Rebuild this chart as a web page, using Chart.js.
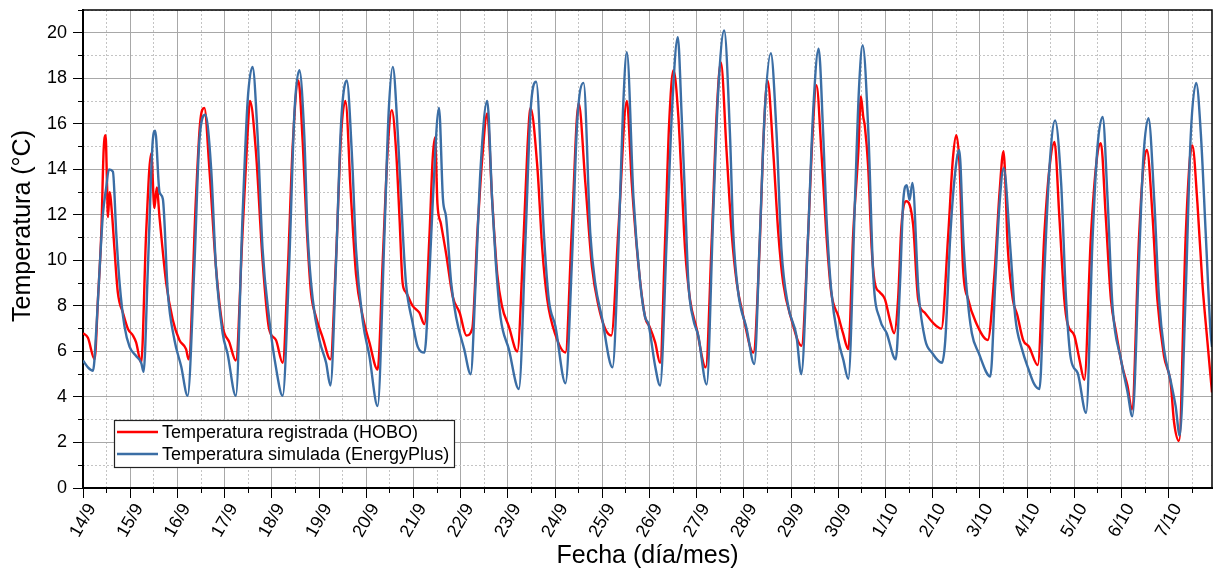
<!DOCTYPE html>
<html>
<head>
<meta charset="utf-8">
<script src="https://cdn.jsdelivr.net/npm/chart.js@4.4.1/dist/chart.umd.min.js"></script>
<style>
  html, body { margin: 0; padding: 0; background: #fff; }
  #wrap { width: 1213px; height: 571px; }
</style>
</head>
<body>
<div id="wrap"><canvas id="chart" width="1213" height="571"></canvas></div>
<script>
// Fechas (una etiqueta por día, cada 24 h)
const fechas = ['14/9', '15/9', '16/9', '17/9', '18/9', '19/9', '20/9', '21/9', '22/9', '23/9',
  '24/9', '25/9', '26/9', '27/9', '28/9', '29/9', '30/9', '1/10', '2/10', '3/10', '4/10',
  '5/10', '6/10', '7/10'];
const horaFinal = 574; // horas desde 14/9 00:00

// Temperatura registrada (HOBO): horas desde 14/9 00:00 y °C
const horasHOBO = [0, 2.5, 5.9, 7.6, 9.3, 10.5, 11.5, 12.2, 12.7, 13.5, 14.7, 16, 17.7, 20.3, 22.8,
  25.4, 27, 29.6, 32.1, 34.7, 36.3, 37.5, 38.9, 42.3, 45.6, 49, 52.4, 53.7, 57.4, 59.5, 61.7,
  64.2, 67.6, 71, 74.4, 77.7, 81.1, 83.7, 84.9, 87.9, 91.3, 94.6, 98.1, 101.5, 104.1, 106.6,
  109.5, 111.7, 113.7, 115.9, 118.5, 121.9, 125.8, 128.6, 131.2, 133.4, 136.3, 138.8, 142.3,
  145.6, 149.8, 152.4, 155, 157, 159.2, 160.9, 162.5, 164.2, 167.6, 171, 173.6, 176.1, 177.8,
  179, 180.2, 182, 184.6, 188, 191.5, 194.9, 197.9, 200.5, 203, 205.5, 208, 210.6, 213, 216.5,
  220.8, 224, 226, 227.5, 231, 233.5, 236, 240.3, 245.3, 248.6, 252, 255.4, 258.8, 262.1,
  265.5, 268.6, 272.3, 276.5, 279, 282.5, 285.8, 288, 290.9, 293.4, 296, 298, 300.2, 302.7,
  304.4, 306.1, 308.6, 312, 316.6, 319.7, 322.2, 324.3, 327.2, 329.8, 332.4, 335.7, 340.8,
  344.2, 345.8, 348, 350.9, 353.5, 356, 360.2, 365.3, 368.6, 370.6, 372.9, 375.4, 377.9,
  380.4, 384, 386.4, 389.1, 391.6, 394.2, 395.5, 396.7, 397.5, 399.2, 401, 402.6, 405.1,
  407.7, 410.2, 412.4, 414.4, 416.1, 418.6, 422, 424.6, 428, 432.2, 436.4, 439.8, 442.3, 444,
  445.7, 447.4, 450, 454.1, 460, 463.4, 466, 468, 470.2, 472.7, 475, 478, 481, 485.4, 488.8,
  491.3, 493.9, 496.4, 498.9, 500.6, 504, 506.6, 509.1, 512.4, 515.5, 517.5, 520, 522.6,
  525.1, 528.5, 531, 533.3, 536.9, 539, 540.9, 543.8, 546.2, 549.6, 553, 554.7, 557.2, 560.6,
  562.8, 564, 566.6, 569.1, 571.6, 574];
const tempHOBO = [6.8, 6.6, 5.65, 8.3, 11.2, 14.85, 15.5, 13.4, 11.9, 13.0, 12.1, 10.5, 8.6, 7.7, 7.0,
  6.7, 6.4, 5.5, 11.2, 14.7, 12.3, 13.2, 11.9, 9.0, 7.4, 6.5, 6.1, 5.65, 12.7, 16.0, 16.7,
  14.1, 9.7, 7.1, 6.4, 5.6, 11.2, 15.6, 17.0, 14.8, 10.0, 7.0, 6.5, 5.5, 9.5, 15,
  17.9, 15.2, 11.5, 8.6, 7.5, 6.6, 5.65, 10, 15.5, 17.0, 12.7, 9.4, 7.5,
  6.4, 5.2, 10, 15, 16.6, 14.8, 11.9, 9.0, 8.6, 8.0, 7.7, 7.2, 11, 14.5,
  15.4, 12.5, 11.6, 10.3, 8.4, 7.7, 6.7, 7.0, 11.2, 14.5, 16.45, 12.7, 9.4, 8.0, 7.1,
  6.0, 11, 15, 16.7, 14.1, 10.5, 8.3, 6.7, 5.95, 11.5, 16.9, 13.4, 9.7, 8.0,
  7.0, 6.7, 11.5, 17.0, 13.4, 9.7, 7.5, 7.1, 6.4, 5.5, 11, 16, 18.35, 16.3,
  13.4, 10.5, 8.3, 7.0, 5.3, 11, 16.5, 18.7, 14.8, 11.2, 9.0, 7.55, 5.95,
  11, 15, 17.9, 14.8, 11.2, 9.0, 7.4, 6.25, 11, 15, 17.7, 14.8, 11.2,
  8.6, 7.55, 6.8, 6.1, 11.2, 14.8, 17.2, 16.3, 15.9, 14.1, 10.5, 9.0, 8.6,
  8.3, 7.4, 6.8, 8.3, 11.5, 12.6, 11.6, 8.3, 7.7, 7.25, 7.0, 11, 14.5, 15.5,
  14.1, 9.7, 8.3, 7.25, 6.5, 9.4, 13, 14.8, 10.5, 8.3, 7.6, 6.5, 6.2, 5.4, 11.2,
  14, 15.2, 11.9, 8.3, 7.2, 6.7, 5.65, 4.75, 11, 14.5, 15.15, 11.9, 8.3,
  6.9, 5.3, 4.5, 3.45, 11, 14, 14.85, 11.9, 8.3, 5.8, 4.6, 2.9, 2.07, 11,
  14.5, 15.05, 12.5, 9.0, 6.5, 4.2];

// Temperatura simulada (EnergyPlus): horas desde 14/9 00:00 y °C
const horasEP = [0, 2.5, 5.1, 6.8, 8.5, 10.1, 11.8, 13.2, 15.2, 16.9, 18.6, 21.1, 23.7, 27, 29.6,
  30.8, 33, 35.5, 36.7, 38.9, 40.6, 43.1, 46.5, 49.9, 53.2, 56.6, 59.2, 62.2, 65.1, 67.6, 71,
  73.5, 77.7, 81.1, 83.7, 86.2, 88.7, 91.3, 94.7, 98.1, 101.5, 104.9, 107.5, 110, 112.5,
  114.2, 116.8, 120.2, 123.6, 125.8, 128.7, 131.2, 134.1, 136.8, 138.8, 142.3, 145.6, 149.8,
  153.2, 155.4, 157.5, 160.1, 162.6, 164.2, 167.6, 170.2, 173.6, 175.9, 177.9, 181, 183,
  184.6, 187.2, 189.7, 193.8, 197.1, 199.6, 202.1, 205.5, 208.1, 209.8, 212.3, 216.5, 221.6,
  225, 227.5, 230.4, 234.3, 236.8, 240.2, 245.3, 248.6, 251.2, 254.5, 257.9, 260.4, 263.8,
  269.2, 272.4, 274.5, 276.5, 279.9, 283.3, 285.8, 287.5, 290.9, 293.4, 296.8, 299.7, 302.4,
  304.4, 306.1, 307.8, 310.3, 312.8, 317.1, 320.4, 323, 326, 328.9, 330.6, 333.1, 337.4,
  341.3, 344.1, 346.6, 349.7, 352.6, 355.1, 358.5, 362.7, 365.2, 368.6, 371.2, 374, 376.3,
  378, 380.4, 384, 386.5, 389.1, 392.5, 394.5, 396.4, 399.3, 401.8, 405.2, 408.6, 413.2,
  415.4, 417.1, 418.8, 420.2, 421.7, 424.8, 428.2, 431.6, 436.7, 438.4, 440.9, 443, 445.5,
  447.7, 449.4, 451.9, 455.3, 461.3, 463.8, 466, 468.1, 471.5, 474, 477.4, 480.8, 483.7,
  486.3, 488.8, 491.3, 494.2, 497.3, 499.8, 502.3, 505.7, 510, 513.3, 515.8, 518.4, 520.9,
  523.4, 527.7, 531.1, 533.5, 536.9, 539.1, 541.7, 544.6, 547.1, 549.6, 553, 555.5, 557.6,
  560.6, 563.2, 566, 568.3, 570.8, 573.3, 574];
const tempEP = [5.6, 5.3, 5.15, 7, 9.7, 12, 13.2, 14.0, 13.9, 11.2, 9.0, 7.1, 6.2, 5.8, 5.5,
  5.1, 9.7, 15.3, 15.7, 13.0, 12.7, 8.6, 6.5, 5.35, 4.05, 9.7, 15.3, 16.4, 14.1, 9.7, 6.8,
  5.9, 4.05, 11.9, 17.0, 18.5, 15.6, 10.5, 7.4, 5.3, 4.05, 10, 16.5, 18.35, 15.5,
  11.2, 8.3, 6.5, 5.5, 4.5, 10, 16, 17.9, 14.5, 10.5, 7.3, 5.8, 3.6,
  11, 16.5, 18.5, 15.5, 11.2, 9.0, 7.25, 6.2, 5.95, 9, 12.7, 16.7, 12.7,
  11.9, 9.0, 7.5, 6.1, 5.0, 9, 14, 17.0, 12.5, 10, 7.5, 6.1, 4.35,
  11, 16.5, 17.85, 11.2, 8.3, 7.1, 4.6, 10, 16, 17.8, 11.2, 9.0, 7.5,
  5.3, 11, 16.5, 19.15, 12.7, 9.0, 7.5, 7.2, 5.35, 4.5, 11, 17, 19.8,
  16.3, 12.7, 9.0, 7.4, 6.7, 4.55, 12, 17.5, 20.1, 15.6, 11.2, 8.6, 7.0,
  5.45, 11, 16.5, 19.1, 15.6, 10.5, 8.0, 6.7, 5.0, 11, 16.5, 19.3, 15.6,
  11.9, 8.7, 6.5, 5.65, 4.8, 12.7, 17.5, 19.45, 15.6, 9.3, 7.4, 6.8, 5.65,
  9, 12.7, 13.3, 12.65, 13.4, 8.6, 6.5, 5.95, 5.5, 6.5, 11, 13.5, 14.85,
  10.7, 8.6, 6.8, 5.95, 4.9, 9, 12.5, 14.05, 10.5, 7.5, 6.1, 5.2, 4.55,
  4.35, 9.5, 14, 16.15, 13.4, 8.3, 5.65, 5.05, 3.3, 11, 15, 16.3, 12.7,
  8.0, 5.65, 4.2, 3.15, 10, 14.5, 16.25, 12.7, 8.3, 6.1, 4.7, 3.6, 2.3,
  8.5, 15.5, 17.8, 15.6, 11.2, 6.8, 6.2];

const etiquetas = ['Temperatura registrada (HOBO)', 'Temperatura simulada (EnergyPlus)'];
const colores = ['#ff0000', '#3b6ea5'];
const tituloY = 'Temperatura (°C)';

Chart.defaults.font.family = '"Liberation Sans", Arial, sans-serif';
Chart.defaults.color = '#000';

const toPoints = (xs, ys) => xs.map((x, i) => ({ x: x, y: ys[i] }));

// Marco superior/derecho del área de trazado y título del eje Y
const marco = {
  id: 'marco',
  afterDatasetsDraw(chart) {
    const { ctx, chartArea: a } = chart;
    ctx.save();
    ctx.strokeStyle = '#000';
    ctx.lineWidth = 1.5;
    ctx.beginPath();
    ctx.moveTo(a.left, a.top);
    ctx.lineTo(a.right, a.top);
    ctx.lineTo(a.right, a.bottom);
    ctx.stroke();
    // título Y, un poco por encima del centro como en el original
    ctx.translate(23, a.top + 216);
    ctx.rotate(-Math.PI / 2);
    ctx.font = '25px "Liberation Sans", Arial, sans-serif';
    ctx.fillStyle = '#000';
    ctx.textAlign = 'center';
    ctx.textBaseline = 'middle';
    ctx.fillText(tituloY, 0, 0);
    ctx.restore();
  }
};

// Leyenda dentro del gráfico
const leyenda = {
  id: 'leyenda',
  afterDraw(chart) {
    const { ctx, chartArea: a } = chart;
    const x = a.left + 31, y = a.top + 410, w = 340, h = 47;
    ctx.save();
    ctx.fillStyle = '#fff';
    ctx.fillRect(x, y, w, h);
    ctx.strokeStyle = '#222';
    ctx.lineWidth = 1.2;
    ctx.strokeRect(x + 0.5, y + 0.5, w, h);
    ctx.font = '18px "Liberation Sans", Arial, sans-serif';
    ctx.textBaseline = 'middle';
    chart.data.datasets.forEach((ds, i) => {
      const ly = y + 12 + i * 22;
      ctx.strokeStyle = ds.borderColor;
      ctx.lineWidth = 2.5;
      ctx.beginPath();
      ctx.moveTo(x + 3, ly);
      ctx.lineTo(x + 44, ly);
      ctx.stroke();
      ctx.fillStyle = '#000';
      ctx.fillText(ds.label, x + 48, ly + 1);
    });
    ctx.restore();
  }
};

new Chart(document.getElementById('chart'), {
  type: 'line',
  data: {
    datasets: [
      {
        label: etiquetas[0],
        data: toPoints(horasHOBO, tempHOBO),
        borderColor: colores[0],
        borderWidth: 2.4,
        pointRadius: 0,
        cubicInterpolationMode: 'monotone',
        order: 1
      },
      {
        label: etiquetas[1],
        data: toPoints(horasEP, tempEP),
        borderColor: colores[1],
        borderWidth: 2.4,
        pointRadius: 0,
        cubicInterpolationMode: 'monotone',
        order: 0
      }
    ]
  },
  options: {
    responsive: false,
    animation: false,
    layout: { padding: { top: 10, right: 1, left: 0, bottom: 0 } },
    plugins: { legend: { display: false }, tooltip: { enabled: false } },
    scales: {
      xm: {
        type: 'linear', position: 'bottom', weight: 0,
        min: 0, max: horaFinal,
        ticks: { stepSize: 12, includeBounds: false, display: false },
        grid: {
          color: c => (c.tick && c.tick.value % 24 === 12) ? '#c4c4c4' : 'rgba(0,0,0,0)',
          tickColor: c => (c.tick && c.tick.value % 24 === 12) ? '#000' : 'rgba(0,0,0,0)',
          tickLength: 5, lineWidth: 1
        },
        border: { display: false, dash: [2, 2] },
        afterFit: s => { s.height = 0; s.paddingLeft = 0; s.paddingRight = 0; }
      },
      x: {
        type: 'linear', position: 'bottom', weight: 1,
        min: 0, max: horaFinal,
        ticks: {
          stepSize: 24, includeBounds: false, autoSkip: false,
          maxRotation: 60, minRotation: 60, padding: 2, labelOffset: 9,
          font: { size: 18 },
          callback: v => (v % 24 === 0 && fechas[v / 24]) ? fechas[v / 24] : ''
        },
        grid: { color: '#a8a8a8', tickColor: '#000', tickLength: 10, lineWidth: 1 },
        border: { display: true, color: '#000', width: 2 },
        title: { display: true, text: 'Fecha (día/mes)', font: { size: 25 }, padding: { top: 0, bottom: 0 } },
        afterFit: s => { s.height = 83; s.paddingLeft = 0; s.paddingRight = 0; }
      },
      ym: {
        type: 'linear', position: 'left', weight: 0,
        min: 0, max: 21,
        ticks: { stepSize: 1, display: false },
        grid: {
          color: c => (c.tick && c.tick.value % 2 === 1) ? '#c4c4c4' : 'rgba(0,0,0,0)',
          tickColor: c => (c.tick && c.tick.value % 2 === 1) ? '#000' : 'rgba(0,0,0,0)',
          tickLength: 5, lineWidth: 1
        },
        border: { display: false, dash: [2, 2] },
        afterFit: s => { s.width = 0; s.paddingTop = 0; s.paddingBottom = 0; }
      },
      y: {
        type: 'linear', position: 'left', weight: 1,
        min: 0, max: 21,
        ticks: {
          stepSize: 1, autoSkip: false, padding: 6,
          font: { size: 18 },
          callback: v => v % 2 === 0 ? String(v) : ''
        },
        grid: {
          color: c => (c.tick && c.tick.value % 2 === 0) ? '#a8a8a8' : 'rgba(0,0,0,0)',
          tickColor: c => (c.tick && c.tick.value % 2 === 0) ? '#000' : 'rgba(0,0,0,0)',
          tickLength: 10, lineWidth: 1
        },
        border: { display: true, color: '#000', width: 2 },
        afterFit: s => { s.width = 83; s.paddingTop = 0; s.paddingBottom = 0; }
      }
    }
  },
  plugins: [marco, leyenda]
});
</script>
</body>
</html>
